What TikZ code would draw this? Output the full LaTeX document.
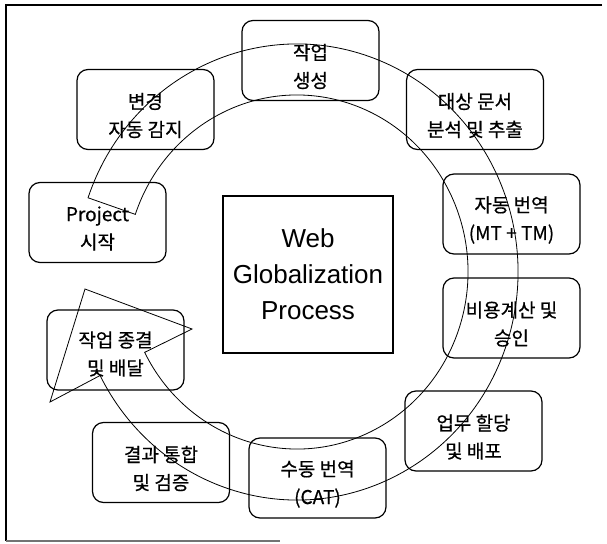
\documentclass[tikz,border=0pt]{standalone}
\usepackage{fontspec}
\setmainfont{Liberation Sans}
\newfontfamily\krfont[FakeBold=0.6]{Noto Sans CJK KR}
\usetikzlibrary{calc}
\tikzset{
  stepbox/.style={draw, line width=1.2pt, rounded corners=11pt, minimum width=137pt, minimum height=80pt, inner sep=0pt},
  boxtxt/.style={align=center, font=\krfont\fontsize{19}{28}\selectfont, inner sep=0pt},
  centerbox/.style={draw, line width=1.6pt, minimum width=170pt, minimum height=157pt, inner sep=0pt, align=center, font=\fontsize{26}{36}\selectfont},
  band/.style={line width=0.8pt, line join=miter},
  framel/.style={line width=1.4pt},
}
\begin{document}
\begin{tikzpicture}[x=1pt,y=1pt]
\useasboundingbox (0,0) rectangle (607,-543);
% frame
\coordinate (f1) at (7,-5);
\coordinate (f2) at (602,-5);
\coordinate (f3) at (6,-541);
\coordinate (f4) at (280,-541);
\draw[framel] (f2) -- (f1) -- (6,-5) -- (f3);
\draw[framel, black!55] (f3) -- (f4);
% boxes
\node[stepbox] (b1) at (310.5,-60.5) {};
\node[stepbox] (b2) at (475,-109.5) {};
\node[stepbox] (b3) at (511.5,-214) {};
\node[stepbox] (b4) at (511.5,-318) {};
\node[stepbox] (b5) at (473.5,-431) {};
\node[stepbox] (b6) at (317.5,-478) {};
\node[stepbox] (b7) at (161,-462.5) {};
\node[stepbox] (b8) at (115.5,-350) {};
\node[stepbox] (b9) at (97.5,-222.5) {};
\node[stepbox] (b10) at (145.5,-109.5) {};
\node[boxtxt] (t1) at ([yshift=-6pt]b1.center) {작업\\생성};
\node[boxtxt] (t2) at ([yshift=-6pt]b2.center) {대상 문서\\분석 및 추출};
\node[boxtxt] (t3) at ([yshift=-6pt]b3.center) {자동 번역\\(MT + TM)};
\node[boxtxt] (t4) at ([yshift=-6pt]b4.center) {비용계산 및\\승인};
\node[boxtxt] (t5) at ([yshift=-6pt]b5.center) {업무 할당\\및 배포};
\node[boxtxt] (t6) at ([yshift=-6pt]b6.center) {수동 번역\\(CAT)};
\node[boxtxt] (t7) at ([yshift=-6pt]b7.center) {결과 통합\\및 검증};
\node[boxtxt] (t8) at ([yshift=-4pt]b8.center) {작업 종결\\및 배달};
\node[boxtxt] (t9) at ([yshift=-6pt]b9.center) {Project\\시작};
\node[boxtxt] (t10) at ([yshift=-6pt]b10.center) {변경\\자동 감지};
% center
\node[centerbox] (cb) at (308,-274.5) {Web\\Globalization\\Process};
% circular arrow band
\coordinate (c) at (297,-272);
\coordinate (w1) at (50,-402);
\coordinate (tip) at (85,-289);
\coordinate (w2) at (192,-329);
\draw[band] ([shift={(161:221pt and 228pt)}]c)
  arc[start angle=161, end angle=-153, x radius=221pt, y radius=228pt]
  -- (w1) -- (tip) -- (w2)
  -- ([shift={(-153:171pt and 177pt)}]c)
  arc[start angle=-153, end angle=161, x radius=171pt, y radius=177pt]
  -- cycle;
\end{tikzpicture}
\end{document}
